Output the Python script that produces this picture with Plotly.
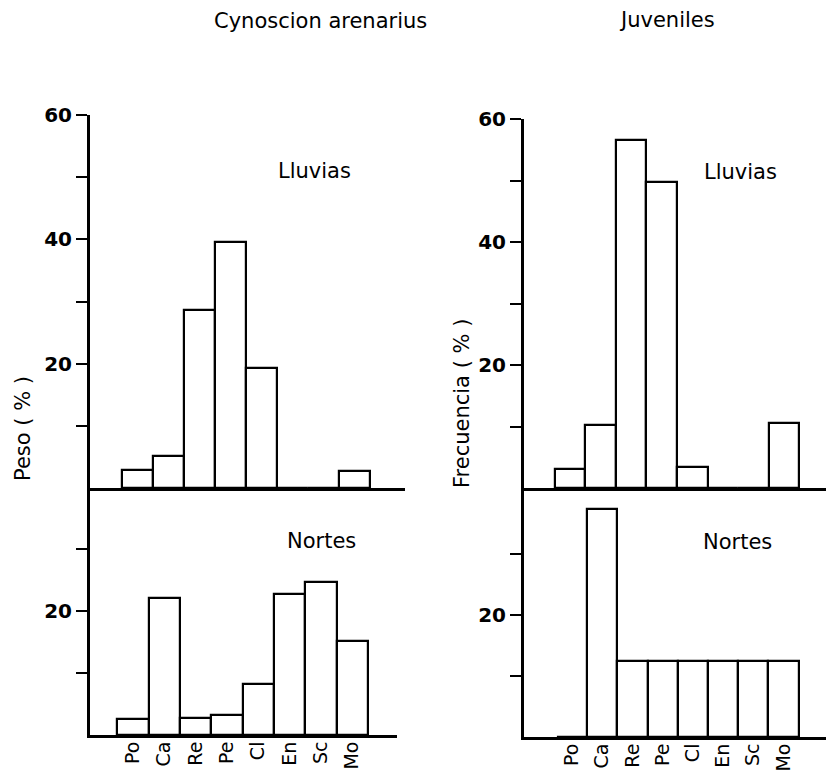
import plotly.graph_objects as go

categories = ["Po", "Ca", "Re", "Pe", "Cl", "En", "Sc", "Mo"]
peso_lluvias = [2.9, 5.1, 28.7, 39.6, 19.3, 0, 0, 2.7]
peso_nortes = [2.5, 22.1, 2.7, 3.2, 8.2, 22.8, 24.6, 15.2]
frec_lluvias = [3.1, 10.3, 56.6, 49.7, 3.4, 0, 0, 10.6]
frec_nortes = [0, 37.4, 12.4, 12.4, 12.4, 12.4, 12.4, 12.4]

W, H = 826, 775
FONT = "DejaVu Sans"
xpos = list(range(len(categories)))

def px(x):
    return x / W

def py(y):
    return 1 - y / H

fig = go.Figure()

series = [
    (peso_lluvias, "x", "y"),
    (peso_nortes, "x2", "y2"),
    (frec_lluvias, "x3", "y3"),
    (frec_nortes, "x4", "y4"),
]
for vals, xa, ya in series:
    fig.add_trace(go.Bar(
        x=xpos, y=vals, width=1.0, xaxis=xa, yaxis=ya,
        marker=dict(color="white", line=dict(color="black", width=2.2)),
        showlegend=False, hoverinfo="skip",
    ))

common_x = dict(showline=True, linecolor="black", linewidth=3, showgrid=False,
                zeroline=False, ticks="", fixedrange=True, automargin=False,
                ticklabelstandoff=-4,
                tickfont=dict(family=FONT, size=19, color="black"))
common_y = dict(showline=True, linecolor="black", linewidth=3, showgrid=False,
                zeroline=False, ticks="outside", ticklen=11, tickwidth=2,
                tickcolor="black", fixedrange=True, automargin=False,
                tickfont=dict(family=FONT, size=20, color="black", weight="bold"))

top_vals = [10, 20, 30, 40, 50, 60]
top_text = ["", "20", "", "40", "", "60"]
bot_vals = [10, 20, 30]
bot_text = ["", "20", ""]

fig.update_layout(
    width=W, height=H,
    margin=dict(l=0, r=0, t=0, b=0, autoexpand=False),
    paper_bgcolor="white", plot_bgcolor="rgba(0,0,0,0)",
    bargap=0,
    xaxis=dict(common_x, domain=[px(90), px(405)], range=[-1.53, 8.63],
               anchor="y", showticklabels=False),
    yaxis=dict(common_y, domain=[py(488), py(115)], range=[0, 60],
               anchor="x", tickvals=top_vals, ticktext=top_text),
    xaxis2=dict(common_x, domain=[px(90), px(397)], range=[-1.37, 8.43],
                anchor="y2", tickvals=xpos, ticktext=categories, tickangle=-90),
    yaxis2=dict(common_y, domain=[py(735), py(488)], range=[0, 39.8],
                anchor="x2", tickvals=bot_vals, ticktext=bot_text),
    xaxis3=dict(common_x, domain=[px(524), 1.0], range=[-1.5, 8.37],
                anchor="y3", showticklabels=False),
    yaxis3=dict(common_y, domain=[py(488), py(119)], range=[0, 60],
                anchor="x3", tickvals=top_vals, ticktext=top_text),
    xaxis4=dict(common_x, domain=[px(524), 1.0], range=[-1.59, 8.41],
                anchor="y4", tickvals=xpos, ticktext=categories, tickangle=-90),
    yaxis4=dict(common_y, domain=[py(737), py(488)], range=[0, 40.8],
                anchor="x4", tickvals=bot_vals, ticktext=bot_text),
)

def label(text, x, y, angle=0, size=21):
    fig.add_annotation(text=text, x=px(x), y=py(y), xref="paper", yref="paper",
                       showarrow=False, textangle=angle,
                       xanchor="center", yanchor="middle",
                       font=dict(family=FONT, size=size, color="black"))

label("Cynoscion arenarius", 320, 21)
label("Juveniles", 667, 20)
label("Lluvias", 314, 171)
label("Nortes", 321, 541)
label("Lluvias", 740, 172)
label("Nortes", 737, 542)
label("Peso ( % )", 23, 429, angle=-90)
label("Frecuencia ( % )", 462, 403, angle=-90)

fig.write_html(
    "out.html",
    config={"displayModeBar": False},
    post_script="document.body.style.margin='0px';document.body.style.overflow='hidden';",
)
